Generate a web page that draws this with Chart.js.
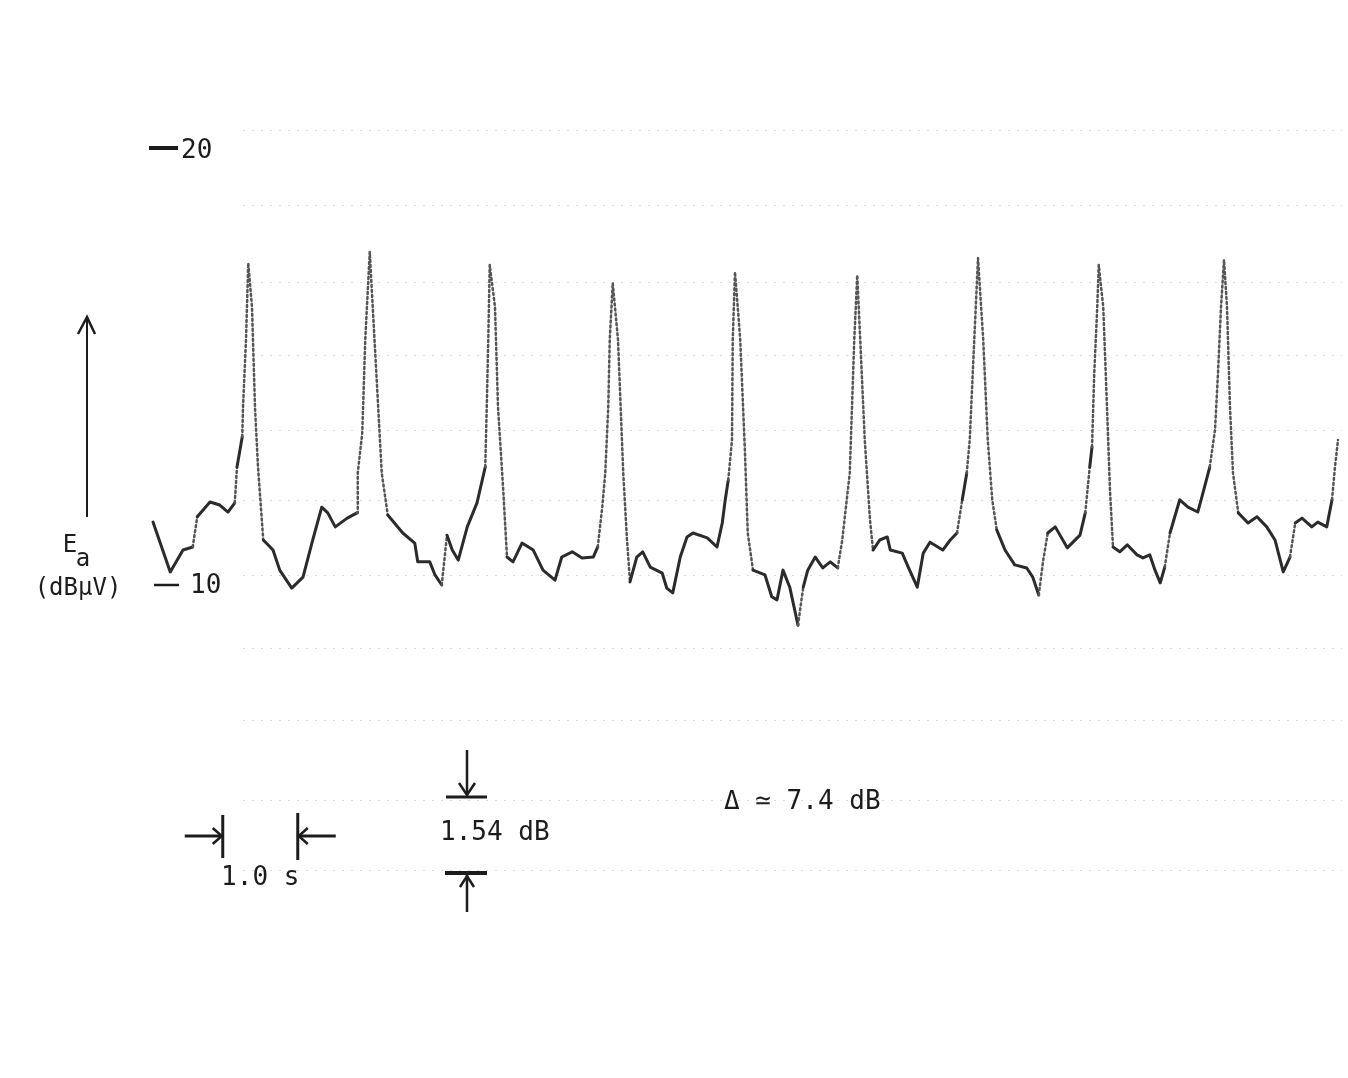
<!DOCTYPE html>
<html>
<head>
<meta charset="utf-8">
<title>Ea strip chart</title>
<script src="https://cdn.jsdelivr.net/npm/chart.js@4.4.0/dist/chart.umd.min.js"></script>
<style>
  html, body { margin: 0; padding: 0; background: #ffffff; }
  canvas { display: block; }
</style>
</head>
<body>
<canvas id="trace" width="1348" height="1078"></canvas>
<script>
// Time (s) and level Ea (dBuV)
const times = [
  0.00, 0.23, 0.40, 0.53, 0.59, 0.76, 0.89, 1.00, 1.09, 1.12, 1.19, 1.20, 1.24, 1.27, 1.32, 1.36, 1.40, 1.47,
  1.60, 1.69, 1.85, 2.00, 2.13, 2.25, 2.33, 2.43, 2.59, 2.72, 2.73, 2.79, 2.83, 2.89, 2.93, 2.99, 3.05, 3.13,
  3.33, 3.49, 3.53, 3.69, 3.76, 3.85, 3.92, 3.99, 4.07, 4.19, 4.32, 4.43, 4.45, 4.47, 4.49, 4.56, 4.60, 4.67,
  4.72, 4.80, 4.92, 5.07, 5.20, 5.36, 5.45, 5.59, 5.72, 5.87, 5.93, 5.99, 6.03, 6.07, 6.09, 6.13, 6.20, 6.27,
  6.32, 6.36, 6.45, 6.53, 6.63, 6.79, 6.85, 6.93, 7.03, 7.12, 7.20, 7.39, 7.52, 7.59, 7.63, 7.67, 7.72, 7.73,
  7.76, 7.83, 7.89, 7.93, 8.00, 8.16, 8.25, 8.32, 8.40, 8.49, 8.60, 8.67, 8.73, 8.83, 8.93, 9.03, 9.13, 9.19,
  9.25, 9.29, 9.32, 9.35, 9.39, 9.43, 9.49, 9.56, 9.60, 9.69, 9.79, 9.83, 9.99, 10.07, 10.19, 10.27, 10.36, 10.53,
  10.63, 10.72, 10.79, 10.85, 10.89, 10.93, 10.97, 11.00, 11.07, 11.13, 11.19, 11.25, 11.36, 11.49, 11.65, 11.73, 11.81, 11.87,
  11.93, 12.03, 12.19, 12.36, 12.43, 12.49, 12.52, 12.55, 12.59, 12.61, 12.67, 12.72, 12.76, 12.80, 12.89, 12.99, 13.12, 13.20,
  13.29, 13.36, 13.43, 13.49, 13.56, 13.69, 13.80, 13.93, 14.00, 14.09, 14.16, 14.20, 14.24, 14.28, 14.32, 14.36, 14.40, 14.47,
  14.60, 14.72, 14.85, 14.96, 15.07, 15.16, 15.23, 15.32, 15.45, 15.53, 15.65, 15.72, 15.76, 15.80
];
const levels = [
  11.44, 10.30, 10.80, 10.87, 11.56, 11.90, 11.83, 11.67, 11.88, 12.70, 13.39, 14.07, 15.61, 17.37, 16.36, 14.07, 12.70, 11.03,
  10.80, 10.34, 9.93, 10.18, 11.03, 11.78, 11.65, 11.33, 11.53, 11.65, 12.56, 13.48, 15.61, 17.62, 16.36, 14.46, 12.56, 11.60,
  11.19, 10.96, 10.53, 10.53, 10.23, 10.00, 11.14, 10.80, 10.57, 11.33, 11.88, 12.70, 14.07, 15.61, 17.32, 16.36, 14.07, 12.17,
  10.64, 10.53, 10.96, 10.80, 10.34, 10.11, 10.64, 10.76, 10.62, 10.64, 10.87, 11.78, 12.56, 14.07, 15.61, 16.91, 15.61, 12.56,
  11.03, 10.07, 10.64, 10.76, 10.41, 10.27, 9.93, 9.82, 10.64, 11.10, 11.19, 11.08, 10.87, 11.42, 11.95, 12.40, 13.32, 15.61,
  17.16, 15.61, 13.16, 11.19, 10.34, 10.23, 9.73, 9.66, 10.34, 9.95, 9.08, 9.95, 10.34, 10.64, 10.39, 10.53, 10.39, 11.03,
  11.95, 12.56, 14.07, 15.61, 17.09, 15.61, 13.32, 11.49, 10.80, 11.03, 11.10, 10.80, 10.73, 10.41, 9.95, 10.73, 10.98, 10.80,
  11.03, 11.19, 11.95, 12.56, 13.32, 14.85, 16.36, 17.48, 15.61, 13.32, 11.95, 11.26, 10.80, 10.46, 10.39, 10.18, 9.77, 10.57,
  11.19, 11.33, 10.85, 11.14, 11.65, 12.70, 13.16, 14.85, 16.36, 17.32, 16.36, 14.07, 12.17, 10.87, 10.76, 10.92, 10.69, 10.62,
  10.69, 10.34, 10.05, 10.41, 11.19, 11.95, 11.78, 11.67, 12.11, 12.70, 13.55, 14.85, 16.36, 17.44, 16.36, 14.07, 12.56, 11.65,
  11.42, 11.56, 11.33, 11.03, 10.30, 10.64, 11.42, 11.53, 11.33, 11.44, 11.33, 11.95, 12.70, 13.32
];

// level marks written on the left edge of the chart
const yTicks = [10, 20];
// faint rulings of the chart paper (dBuV)
const paperRulings = [20.41, 18.70, 16.93, 15.26, 13.55, 11.95, 10.23, 8.56, 6.91, 5.08, 3.48];
// the "1.0 s" time bracket (s)
const timeBracket = [0.93, 1.93];

const lettering = '"DejaVu Sans Mono", "Liberation Mono", monospace';
const ink = '#1c1c1c';

function line(ctx, pts, w) {
  ctx.beginPath();
  ctx.lineWidth = w;
  pts.forEach((p, i) => i ? ctx.lineTo(p[0], p[1]) : ctx.moveTo(p[0], p[1]));
  ctx.stroke();
}

function text(ctx, s, x, y, size, align) {
  ctx.font = size + 'px ' + lettering;
  ctx.textAlign = align || 'left';
  ctx.textBaseline = 'middle';
  ctx.fillText(s, x, y);
}

// paper rulings behind the trace
const paperPlugin = {
  id: 'paper',
  beforeDatasetsDraw(chart) {
    const { ctx, chartArea, scales } = chart;
    ctx.save();
    ctx.strokeStyle = 'rgba(0,0,0,0.14)';
    ctx.lineWidth = 1;
    ctx.setLineDash([2, 7]);
    paperRulings.forEach(v => {
      const y = Math.round(scales.y.getPixelForValue(v)) + 0.5;
      ctx.beginPath();
      ctx.moveTo(chartArea.left + 90, y);
      ctx.lineTo(chart.width - 6, y);
      ctx.stroke();
    });
    ctx.restore();
  }
};

// hand lettering: level marks, axis label, scale brackets
const letteringPlugin = {
  id: 'lettering',
  afterDraw(chart) {
    const { ctx, scales } = chart;
    const xs = scales.x, ys = scales.y;
    ctx.save();
    ctx.strokeStyle = ink;
    ctx.fillStyle = ink;
    ctx.lineCap = 'butt';

    // level marks "—20" and "— 10"
    yTicks.forEach(v => {
      const y = ys.getPixelForValue(v);
      if (v === 20) {
        line(ctx, [[149, y], [178, y]], 4);
        text(ctx, String(v), 181, y + 3, 26);
      } else {
        line(ctx, [[154, y], [179, y]], 2.5);
        text(ctx, String(v), 190, y + 1, 26);
      }
    });

    // vertical axis arrow and label
    line(ctx, [[87, 517], [87, 316]], 2);
    line(ctx, [[78, 334], [87, 317], [95, 334]], 2.5);
    text(ctx, 'E', 70, 546, 24, 'center');
    text(ctx, 'a', 83, 560, 24, 'center');
    text(ctx, '(dB\u03bcV)', 78, 589, 24, 'center');

    // 1.0 s bracket
    const xa = xs.getPixelForValue(timeBracket[0]);
    const xb = xs.getPixelForValue(timeBracket[1]);
    line(ctx, [[xa, 815], [xa, 858]], 3);
    line(ctx, [[xb, 813], [xb, 860]], 3);
    line(ctx, [[xa - 38, 836], [xa - 1, 836]], 3);
    line(ctx, [[xa - 10, 828], [xa - 1, 836], [xa - 10, 844]], 2.5);
    line(ctx, [[xb + 1, 836], [xb + 38, 836]], 3);
    line(ctx, [[xb + 10, 828], [xb + 1, 836], [xb + 10, 844]], 2.5);
    text(ctx, '1.0 s', (xa + xb) / 2, 878, 26, 'center');

    // 1.54 dB bracket
    line(ctx, [[467, 750], [467, 795]], 2.5);
    line(ctx, [[459, 783], [467, 795], [475, 783]], 2.5);
    line(ctx, [[446, 797], [487, 797]], 3);
    line(ctx, [[445, 873], [487, 873]], 4);
    line(ctx, [[467, 875], [467, 912]], 2.5);
    line(ctx, [[460, 887], [467, 876], [474, 887]], 2.5);
    text(ctx, '1.54 dB', 440, 833, 26);

    // overall swing
    text(ctx, '\u0394 \u2243 7.4 dB', 724, 802, 26);
    ctx.restore();
  }
};

// the fast pen strokes up and down each peak come out dotted on the paper
function steep(c) {
  const dx = Math.abs(c.p1.x - c.p0.x), dy = Math.abs(c.p1.y - c.p0.y);
  return dy > 25 && dy > 6 * dx;
}

new Chart(document.getElementById('trace'), {
  type: 'line',
  data: {
    datasets: [{
      data: times.map((t, i) => ({ x: t, y: levels[i] })),
      borderColor: '#2b2b2b',
      borderWidth: 3,
      borderJoinStyle: 'round',
      borderCapStyle: 'round',
      pointRadius: 0,
      tension: 0,
      clip: false,
      segment: {
        borderDash: c => steep(c) ? [2, 3] : undefined,
        borderWidth: c => steep(c) ? 2.5 : undefined,
        borderColor: c => steep(c) ? '#555555' : undefined
      }
    }]
  },
  options: {
    responsive: false,
    animation: false,
    events: [],
    layout: { padding: { left: 153, right: 10, top: 148, bottom: 405.6 } },
    scales: {
      x: { type: 'linear', min: 0, max: 15.8, display: false },
      y: { min: 8, max: 20, display: false }
    },
    plugins: { legend: { display: false }, tooltip: { enabled: false } }
  },
  plugins: [paperPlugin, letteringPlugin]
});
</script>
</body>
</html>
